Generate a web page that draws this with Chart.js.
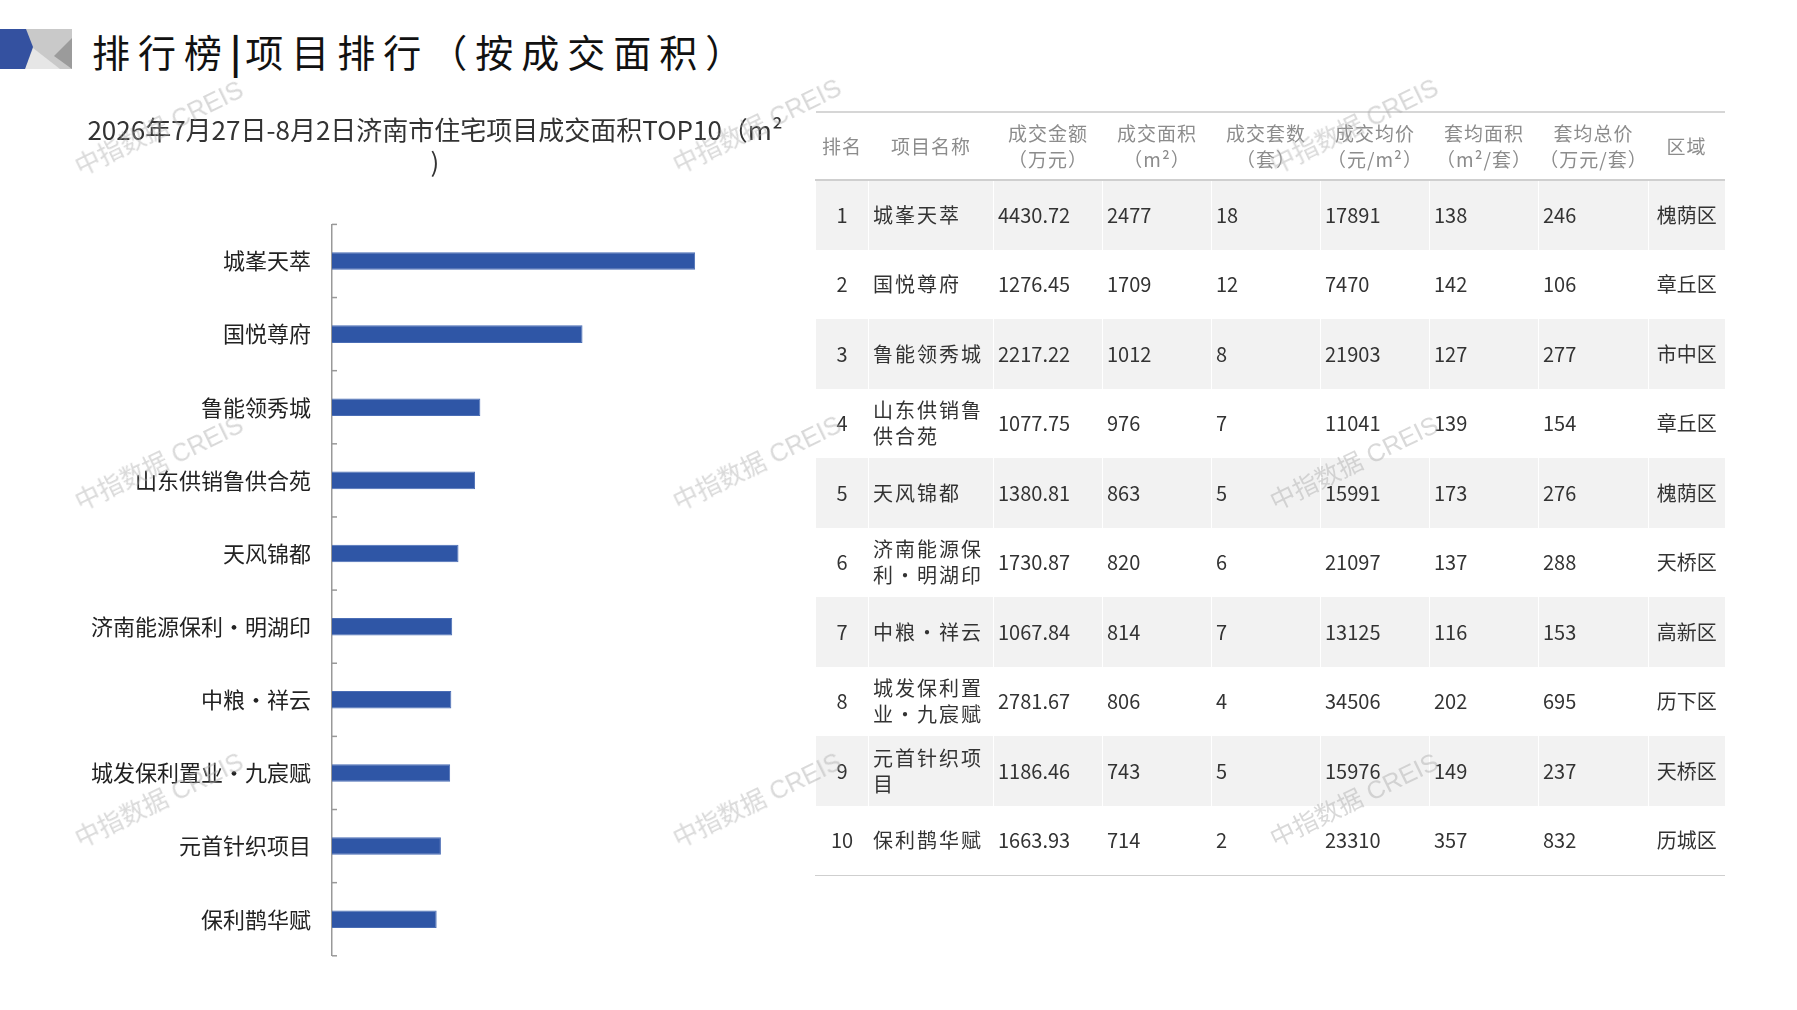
<!DOCTYPE html>
<html>
<head>
<meta charset="utf-8">
<script src="https://cdn.jsdelivr.net/npm/chart.js@4.4.0/dist/chart.umd.min.js"></script>
<style>
  html, body { margin: 0; padding: 0; background: #fff; }
  body { width: 1797px; height: 1010px; position: relative; overflow: hidden;
         font-family: "Noto Sans CJK SC", "Noto Sans", sans-serif; }
  #logo { position: absolute; left: 0; top: 29px; }
  #page-title { position: absolute; left: 92px; top: 24px; font-size: 38px; line-height: 54px;
                letter-spacing: 8px; color: #111; white-space: nowrap; }
  #page-title .bar { font-weight: bold; letter-spacing: 4px; }
  #chart-box { position: absolute; left: 0; top: 105px; width: 870px; height: 885px; }
  #rank-table { position: absolute; left: 815px; top: 111px; width: 909px;
                border-collapse: collapse; table-layout: fixed; z-index: 2; }
  #rank-table th { font-weight: normal; color: #8c8c8c; font-size: 19px; line-height: 26px;
                   height: 66px; padding: 0; text-align: center; letter-spacing: 1px;
                   border-top: 2px solid #d6d6d6; border-bottom: 2px solid #cfcfcf; }
  #rank-table td { color: #333; font-size: 20px; line-height: 26px; height: 69.5px; padding: 0 0 0 4px;
                   border-left: 1px solid #fff; box-sizing: border-box; }
  #rank-table tr.odd td { background: #f2f2f2; }
  #rank-table tr:last-child td { border-bottom: 1.5px solid #cfcfcf; }
  #rank-table td.c { text-align: center; padding: 0; }
  #rank-table td.name { letter-spacing: 2px; }
  .wm { position: absolute; z-index: 5; pointer-events: none; white-space: nowrap;
        font-family: "Liberation Sans", "Noto Sans CJK SC", sans-serif; font-size: 25px;
        color: rgba(170,170,170,0.45); transform: translate(-50%, -50%) rotate(-26deg); }
</style>
</head>
<body>
<svg id="logo" width="72" height="40" viewBox="0 0 72 40">
  <rect x="20" y="0" width="52" height="40" fill="#c9c9c9"/>
  <polygon points="25,40 33,19 60,40" fill="#e6e6e6"/>
  <polygon points="72,9 72,40 54,27" fill="#9b9b9b"/>
  <polygon points="0,0 26,0 33,18 25,40 0,40" fill="#3451a0"/>
</svg>
<div id="page-title">排行榜<span class="bar">|</span>项目排行（按成交面积）</div>

<div id="chart-box"><canvas id="bar-chart"></canvas></div>

<table id="rank-table">
  <colgroup>
    <col style="width:53px"><col style="width:125px">
    <col style="width:109px"><col style="width:109px"><col style="width:109px">
    <col style="width:109px"><col style="width:109px"><col style="width:110px">
    <col style="width:76px">
  </colgroup>
  <thead><tr id="head-row"></tr></thead>
  <tbody id="table-body"></tbody>
</table>

<script>
// Data
const projects = ['城峯天萃', '国悦尊府', '鲁能领秀城', '山东供销鲁供合苑', '天风锦都',
                  '济南能源保利•明湖印', '中粮•祥云', '城发保利置业•九宸赋', '元首针织项目', '保利鹊华赋'];
const dealArea = [2477, 1709, 1012, 976, 863, 820, 814, 806, 743, 714];
const dealAmount = ['4430.72', '1276.45', '2217.22', '1077.75', '1380.81', '1730.87', '1067.84', '2781.67', '1186.46', '1663.93'];
const dealUnits = [18, 12, 8, 7, 5, 6, 7, 4, 5, 2];
const avgPrice = [17891, 7470, 21903, 11041, 15991, 21097, 13125, 34506, 15976, 23310];
const avgUnitArea = [138, 142, 127, 139, 173, 137, 116, 202, 149, 357];
const avgUnitTotal = [246, 106, 277, 154, 276, 288, 153, 695, 237, 832];
const districts = ['槐荫区', '章丘区', '市中区', '章丘区', '槐荫区', '天桥区', '高新区', '历下区', '天桥区', '历城区'];
const tableHeaders = ['排名', '项目名称', '成交金额<br>（万元）', '成交面积<br>（m²）', '成交套数<br>（套）',
                      '成交均价<br>（元/m²）', '套均面积<br>（m²/套）', '套均总价<br>（万元/套）', '区域'];
const chartTitle = ['2026年7月27日-8月2日济南市住宅项目成交面积TOP10（m²', ')'];

// Watermarks
const marks = [[158, 126], [756, 124], [1353, 124], [158, 461], [756, 461], [1353, 461], [158, 798], [756, 798], [1353, 798]];
marks.forEach(p => {
    const d = document.createElement('div');
    d.className = 'wm';
    d.style.left = p[0] + 'px';
    d.style.top = p[1] + 'px';
    d.textContent = '中指数据 CREIS';
    document.body.appendChild(d);
});

// Table
const headRow = document.getElementById('head-row');
tableHeaders.forEach(h => {
    const th = document.createElement('th');
    th.innerHTML = h;
    headRow.appendChild(th);
});
const body = document.getElementById('table-body');
for (let i = 0; i < projects.length; i++) {
    const tr = document.createElement('tr');
    if (i % 2 === 0) tr.className = 'odd';
    const cells = [
        [i + 1, 'c'], [projects[i], 'name'], [dealAmount[i], ''], [dealArea[i], ''], [dealUnits[i], ''],
        [avgPrice[i], ''], [avgUnitArea[i], ''], [avgUnitTotal[i], ''], [districts[i], 'c']
    ];
    cells.forEach(c => {
        const td = document.createElement('td');
        td.textContent = c[0];
        if (c[1]) td.className = c[1];
        tr.appendChild(td);
    });
    body.appendChild(tr);
}

// Small tick marks on the inner side of the category axis
const innerTicks = {
    id: 'innerTicks',
    afterDatasetsDraw(chart) {
        const y = chart.scales.y;
        const ctx = chart.ctx;
        ctx.save();
        ctx.strokeStyle = '#999';
        ctx.lineWidth = 1.5;
        for (let i = 0; i <= projects.length; i++) {
            const py = y.getPixelForValue(i - 0.5);
            ctx.beginPath();
            ctx.moveTo(y.right, py);
            ctx.lineTo(y.right + 5, py);
            ctx.stroke();
        }
        ctx.restore();
    }
};

const barChart = new Chart(document.getElementById('bar-chart'), {
    type: 'bar',
    data: {
        labels: projects,
        datasets: [{
            data: dealArea,
            backgroundColor: '#2f56a6',
            borderColor: '#4a6db5',
            borderWidth: 1,
            categoryPercentage: 1,
            barPercentage: 0.24
        }]
    },
    options: {
        indexAxis: 'y',
        responsive: true,
        maintainAspectRatio: false,
        animation: false,
        layout: { padding: { top: 0, right: 0, bottom: 21, left: 0 } },
        plugins: {
            legend: { display: false },
            tooltip: { enabled: false },
            title: {
                display: true,
                text: chartTitle,
                color: '#333',
                font: { family: '"Noto Sans CJK SC", sans-serif', size: 26, weight: 'normal', lineHeight: 1.2 },
                padding: { top: 10, bottom: 47 }
            }
        },
        scales: {
            x: { display: false, min: 0, max: 3670 },
            y: {
                afterFit: (scale) => { scale.width = 332; },
                grid: { display: true, drawOnChartArea: false, drawTicks: false },
                border: { display: true, color: '#999', width: 1.5 },
                ticks: {
                    color: '#222',
                    padding: 21,
                    font: { family: '"Noto Sans CJK SC", sans-serif', size: 22 }
                }
            }
        }
    },
    plugins: [innerTicks]
});
</script>
</body>
</html>
